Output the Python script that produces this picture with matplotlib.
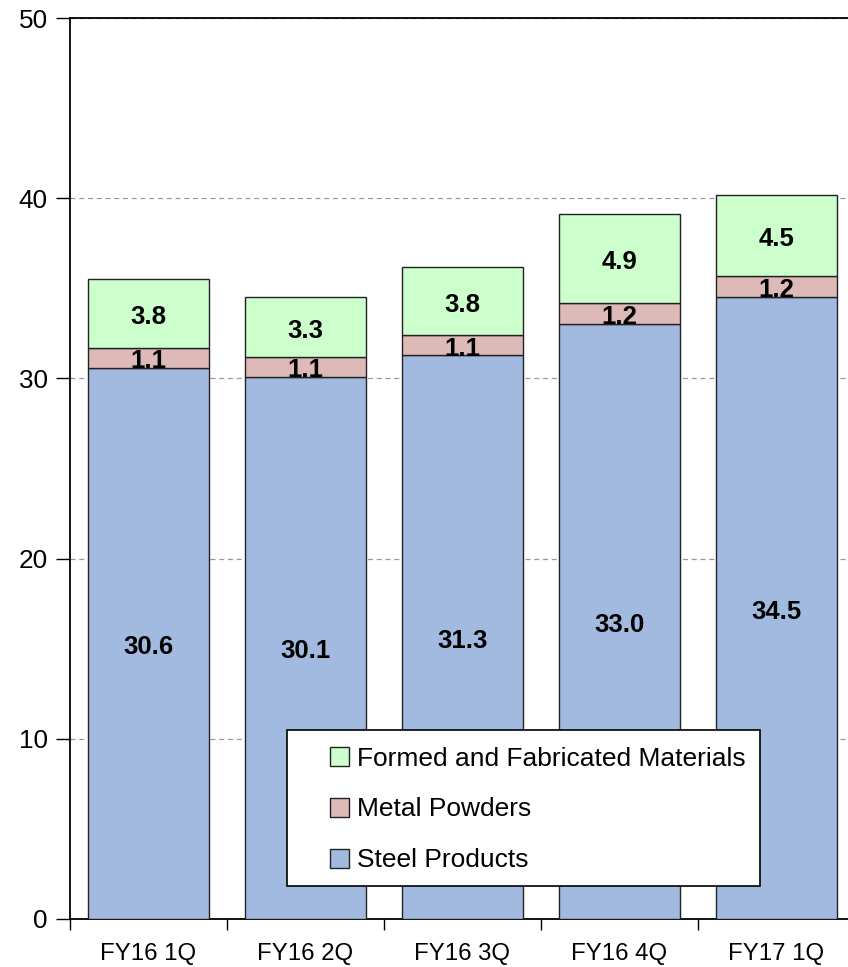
import numpy as np
import matplotlib.pyplot as plt
from matplotlib.patches import Rectangle

plt.rcParams['font.family'] = ['Liberation Sans', 'DejaVu Sans']

quarters = ['FY16 1Q', 'FY16 2Q', 'FY16 3Q', 'FY16 4Q', 'FY17 1Q']
steel = [30.6, 30.1, 31.3, 33.0, 34.5]
powders = [1.1, 1.1, 1.1, 1.2, 1.2]
formed = [3.8, 3.3, 3.8, 4.9, 4.5]

c_steel = '#A3BAE0'
c_powd = '#DDB9B8'
c_form = '#CCFFCC'
edge = '#222222'

fig = plt.figure(figsize=(8.48, 9.67), dpi=100)
# plot area runs a little past the right edge of the figure
ax = fig.add_axes([70 / 848, 1 - 919 / 967, 785 / 848, (919 - 18) / 967])

x = np.arange(len(quarters))
w = 0.765
b1 = ax.bar(x, steel, w, color=c_steel, edgecolor=edge, linewidth=1, label='Steel Products', zorder=3)
b2 = ax.bar(x, powders, w, bottom=steel, color=c_powd, edgecolor=edge, linewidth=1,
            label='Metal Powders', zorder=3)
bot2 = np.array(steel) + np.array(powders)
b3 = ax.bar(x, formed, w, bottom=bot2, color=c_form, edgecolor=edge, linewidth=1,
            label='Formed and Fabricated Materials', zorder=3)

for bars, vals in [(b1, steel), (b2, powders), (b3, formed)]:
    for r, v in zip(bars, vals):
        ax.text(r.get_x() + r.get_width() / 2, r.get_y() + r.get_height() / 2 - 0.2, f'{v:.1f}',
                ha='center', va='center', fontsize=18.5, fontweight='bold', zorder=4)

ax.set_xlim(-0.5, len(quarters) - 0.5)
ax.set_ylim(0, 50)
ax.set_yticks(np.arange(0, 51, 10))
ax.set_xticks(x)
ax.set_xticklabels(quarters)
ax.set_xticks(np.arange(-0.5, len(quarters), 1), minor=True)
ax.tick_params(axis='x', which='major', length=0, pad=17, labelsize=17.3)
ax.tick_params(axis='x', which='minor', length=8, width=1, direction='out')
ax.tick_params(axis='y', length=10, width=1, labelsize=18.8, pad=6)

ax.yaxis.grid(True, linestyle=(0, (4, 3)), color='#999999', linewidth=0.9, zorder=0)
for s in ['left', 'bottom', 'top']:
    ax.spines[s].set_linewidth(1.3)
    ax.spines[s].set_color('black')
ax.spines['right'].set_visible(False)

# legend frame drawn separately so the entries can sit further in from the left
ax.add_patch(Rectangle((0.882, 1.83), 3.013, 8.66, facecolor='white', edgecolor='black',
                       linewidth=1.2, zorder=5))
h, l = ax.get_legend_handles_labels()
leg = ax.legend(h[::-1], l[::-1], loc='upper left', bbox_to_anchor=(1.155, 9.57),
                bbox_transform=ax.transData, borderaxespad=0, borderpad=0, fontsize=19,
                handlelength=0.72, handleheight=0.72, handletextpad=0.3, labelspacing=1.02,
                frameon=False)
leg.set_zorder(6)

fig.savefig('out.png', dpi=100)
